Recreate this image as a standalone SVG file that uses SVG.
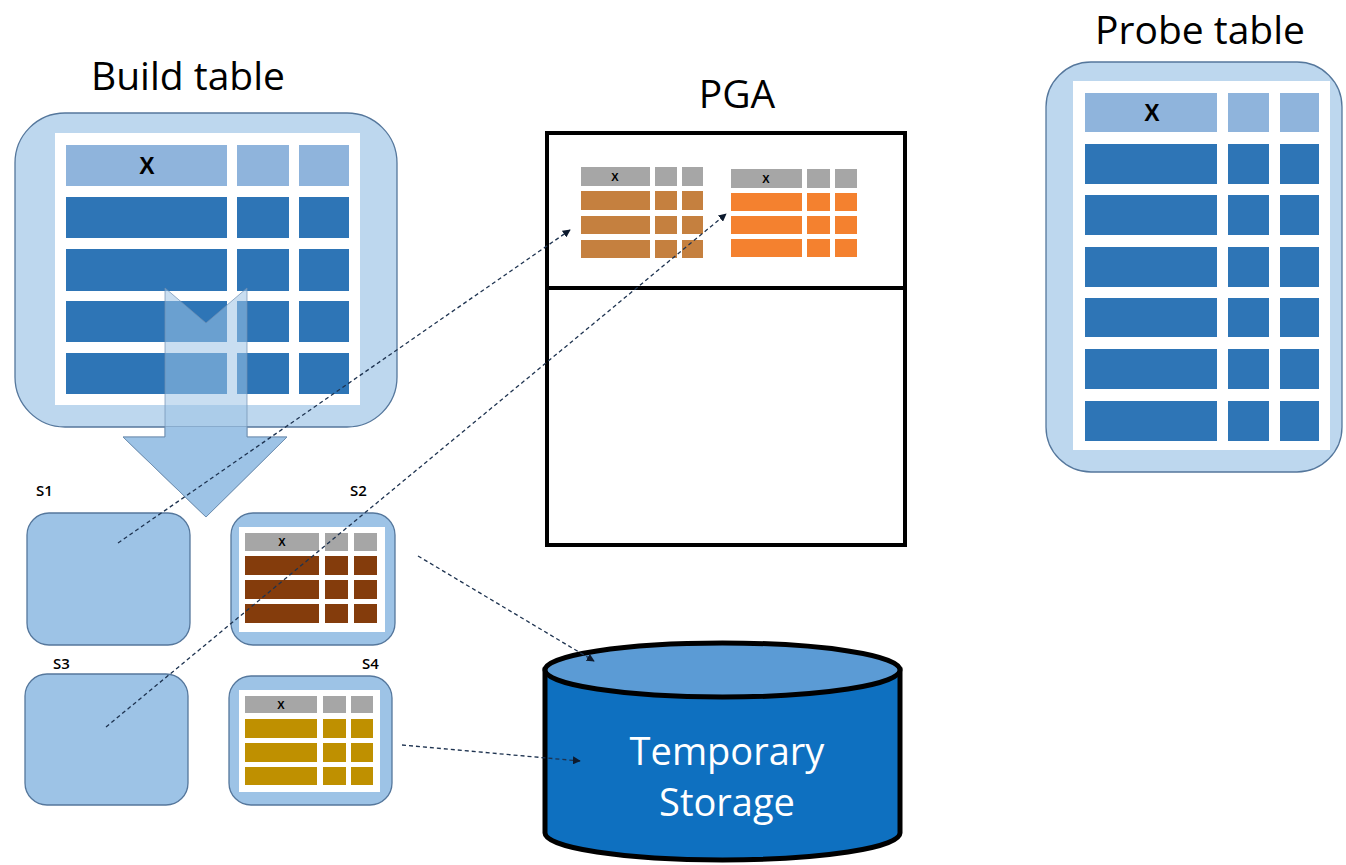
<svg xmlns="http://www.w3.org/2000/svg" width="1346" height="865" viewBox="0 0 1346 865">
<style>
.title{font-family:"Open Sans","Noto Sans",sans-serif;font-size:39px;fill:#000}
.lbl{font-family:"Open Sans","Noto Sans",sans-serif;font-size:15px;font-weight:600;fill:#000}
.bigx{font-family:"Liberation Sans",Arial,sans-serif;font-size:23px;font-weight:bold;fill:#000;text-anchor:middle}
.smx{font-family:"Liberation Sans",Arial,sans-serif;font-size:11px;font-weight:bold;fill:#000;text-anchor:middle}
.outer{fill:#bdd7ee;stroke:#55779c;stroke-width:1.3}
.sbox{fill:#9dc3e6;stroke:#55779c;stroke-width:1.3}
.hd{fill:#8fb4dc}
.rw{fill:#2e75b6}
.gr{fill:#a6a6a6}
.br{fill:#843c0c}
.gd{fill:#bf9000}
.or1{fill:#c5803f}
.or2{fill:#f4812f}
.conn{fill:none;stroke:#1e3350;stroke-width:1.3;stroke-dasharray:4 3}
.st{font-family:"Open Sans","Noto Sans",sans-serif;font-size:38px;fill:#fff;text-anchor:middle}
</style>
<defs>
<marker id="ah" viewBox="0 0 10 10" refX="9" refY="5" markerWidth="8" markerHeight="8" orient="auto" markerUnits="userSpaceOnUse">
<path d="M0,0 L10,5 L0,10 z" fill="#0d1a2e"/>
</marker>
<clipPath id="below"><rect x="0" y="427" width="400" height="120"/></clipPath>
</defs>

<g id="build-table">
<text class="title" x="188" y="90" text-anchor="middle">Build table</text>
<rect class="outer" x="15" y="113" width="382" height="314" rx="50"/>
<rect x="55" y="133" width="305" height="272" fill="#fff"/>
<rect class="hd" x="66" y="145" width="161" height="41"/>
<rect class="hd" x="237" y="145" width="52" height="41"/>
<rect class="hd" x="299" y="145" width="50" height="41"/>
<text class="bigx" x="147" y="174">X</text>
<g class="rw">
<rect x="66" y="197" width="161" height="41"/><rect x="237" y="197" width="52" height="41"/><rect x="299" y="197" width="50" height="41"/>
<rect x="66" y="249" width="161" height="42"/><rect x="237" y="249" width="52" height="42"/><rect x="299" y="249" width="50" height="42"/>
<rect x="66" y="301" width="161" height="41"/><rect x="237" y="301" width="52" height="41"/><rect x="299" y="301" width="50" height="41"/>
<rect x="66" y="353" width="161" height="41"/><rect x="237" y="353" width="52" height="41"/><rect x="299" y="353" width="50" height="41"/>
</g>
</g>

<g id="split-arrow">
<path d="M165,288 L206,323 L247,288 L247,437 L287,437 L206,517 L123,437 L165,437 Z" fill="#9dc3e6" fill-opacity="0.55" stroke="#6f8fb0" stroke-opacity="0.7" stroke-width="1"/>
<path d="M165,288 L206,323 L247,288 L247,437 L287,437 L206,517 L123,437 L165,437 Z" fill="#9dc3e6" stroke="#6f8fb0" stroke-width="1" clip-path="url(#below)"/>
</g>

<g id="s1">
<text class="lbl" x="36" y="496">S1</text>
<rect class="sbox" x="27" y="513" width="163" height="132" rx="22"/>
</g>

<g id="s2">
<text class="lbl" x="350" y="496">S2</text>
<rect class="sbox" x="231" y="513" width="164" height="132" rx="22"/>
<rect x="239" y="527" width="146" height="105" fill="#fff"/>
<rect class="gr" x="245" y="533" width="74" height="18"/><rect class="gr" x="325" y="533" width="23" height="18"/><rect class="gr" x="354" y="533" width="23" height="18"/>
<text class="smx" x="282" y="546">X</text>
<g class="br">
<rect x="245" y="556" width="74" height="19"/><rect x="325" y="556" width="23" height="19"/><rect x="354" y="556" width="23" height="19"/>
<rect x="245" y="580" width="74" height="19"/><rect x="325" y="580" width="23" height="19"/><rect x="354" y="580" width="23" height="19"/>
<rect x="245" y="604" width="74" height="19"/><rect x="325" y="604" width="23" height="19"/><rect x="354" y="604" width="23" height="19"/>
</g>
</g>

<g id="s3">
<text class="lbl" x="53" y="669">S3</text>
<rect class="sbox" x="25" y="674" width="163" height="131" rx="22"/>
</g>

<g id="s4">
<text class="lbl" x="362" y="669">S4</text>
<rect class="sbox" x="229" y="676" width="163" height="129" rx="22"/>
<rect x="239" y="690" width="141" height="102" fill="#fff"/>
<rect class="gr" x="245" y="696" width="72" height="17"/><rect class="gr" x="323" y="696" width="23" height="17"/><rect class="gr" x="351" y="696" width="22" height="17"/>
<text class="smx" x="281" y="709">X</text>
<g class="gd">
<rect x="245" y="719" width="72" height="19"/><rect x="323" y="719" width="23" height="19"/><rect x="351" y="719" width="22" height="19"/>
<rect x="245" y="743" width="72" height="19"/><rect x="323" y="743" width="23" height="19"/><rect x="351" y="743" width="22" height="19"/>
<rect x="245" y="767" width="72" height="18"/><rect x="323" y="767" width="23" height="18"/><rect x="351" y="767" width="22" height="18"/>
</g>
</g>

<g id="pga">
<text class="title" x="737" y="108" text-anchor="middle">PGA</text>
<rect x="547" y="133" width="358" height="412" fill="#fff" stroke="#000" stroke-width="4"/>
<line x1="547" y1="288" x2="905" y2="288" stroke="#000" stroke-width="4"/>
<rect class="gr" x="581" y="167" width="69" height="19"/><rect class="gr" x="655" y="167" width="22" height="19"/><rect class="gr" x="682" y="167" width="21" height="19"/>
<text class="smx" x="615" y="181">X</text>
<g class="or1">
<rect x="581" y="191" width="69" height="19"/><rect x="655" y="191" width="22" height="19"/><rect x="682" y="191" width="21" height="19"/>
<rect x="581" y="216" width="69" height="18"/><rect x="655" y="216" width="22" height="18"/><rect x="682" y="216" width="21" height="18"/>
<rect x="581" y="240" width="69" height="18"/><rect x="655" y="240" width="22" height="18"/><rect x="682" y="240" width="21" height="18"/>
</g>
<rect class="gr" x="731" y="169" width="71" height="19"/><rect class="gr" x="807" y="169" width="23" height="19"/><rect class="gr" x="835" y="169" width="22" height="19"/>
<text class="smx" x="766" y="183">X</text>
<g class="or2">
<rect x="731" y="193" width="71" height="18"/><rect x="807" y="193" width="23" height="18"/><rect x="835" y="193" width="22" height="18"/>
<rect x="731" y="216" width="71" height="18"/><rect x="807" y="216" width="23" height="18"/><rect x="835" y="216" width="22" height="18"/>
<rect x="731" y="239" width="71" height="18"/><rect x="807" y="239" width="23" height="18"/><rect x="835" y="239" width="22" height="18"/>
</g>
</g>

<g id="probe-table">
<text class="title" x="1200" y="44" text-anchor="middle">Probe table</text>
<rect class="outer" x="1046" y="62" width="296" height="410" rx="45"/>
<rect x="1073" y="81" width="257" height="369" fill="#fff"/>
<rect class="hd" x="1085" y="93" width="132" height="39"/><rect class="hd" x="1228" y="93" width="41" height="39"/><rect class="hd" x="1280" y="93" width="39" height="39"/>
<text class="bigx" x="1152" y="121">X</text>
<g class="rw">
<rect x="1085" y="144" width="132" height="40"/><rect x="1228" y="144" width="41" height="40"/><rect x="1280" y="144" width="39" height="40"/>
<rect x="1085" y="195" width="132" height="40"/><rect x="1228" y="195" width="41" height="40"/><rect x="1280" y="195" width="39" height="40"/>
<rect x="1085" y="247" width="132" height="40"/><rect x="1228" y="247" width="41" height="40"/><rect x="1280" y="247" width="39" height="40"/>
<rect x="1085" y="298" width="132" height="39"/><rect x="1228" y="298" width="41" height="39"/><rect x="1280" y="298" width="39" height="39"/>
<rect x="1085" y="349" width="132" height="40"/><rect x="1228" y="349" width="41" height="40"/><rect x="1280" y="349" width="39" height="40"/>
<rect x="1085" y="401" width="132" height="40"/><rect x="1228" y="401" width="41" height="40"/><rect x="1280" y="401" width="39" height="40"/>
</g>
</g>

<g id="temporary-storage">
<path d="M545,670 L545,833 A177.5,27 0 0 0 900,833 L900,670 Z" fill="#0e70c0" stroke="#000" stroke-width="5"/>
<ellipse cx="722.5" cy="670" rx="177.5" ry="27" fill="#5b9bd5" stroke="#000" stroke-width="5"/>
<text class="st" x="727" y="765">Temporary</text>
<text class="st" x="727" y="816">Storage</text>
</g>

<g id="connectors">
<path class="conn" d="M118,543 L570,230" marker-end="url(#ah)"/>
<path class="conn" d="M106,727 L726,214" marker-end="url(#ah)"/>
<path class="conn" d="M418,556 L594,661" marker-end="url(#ah)"/>
<path class="conn" d="M402,745 L580,761" marker-end="url(#ah)"/>
</g>
</svg>
